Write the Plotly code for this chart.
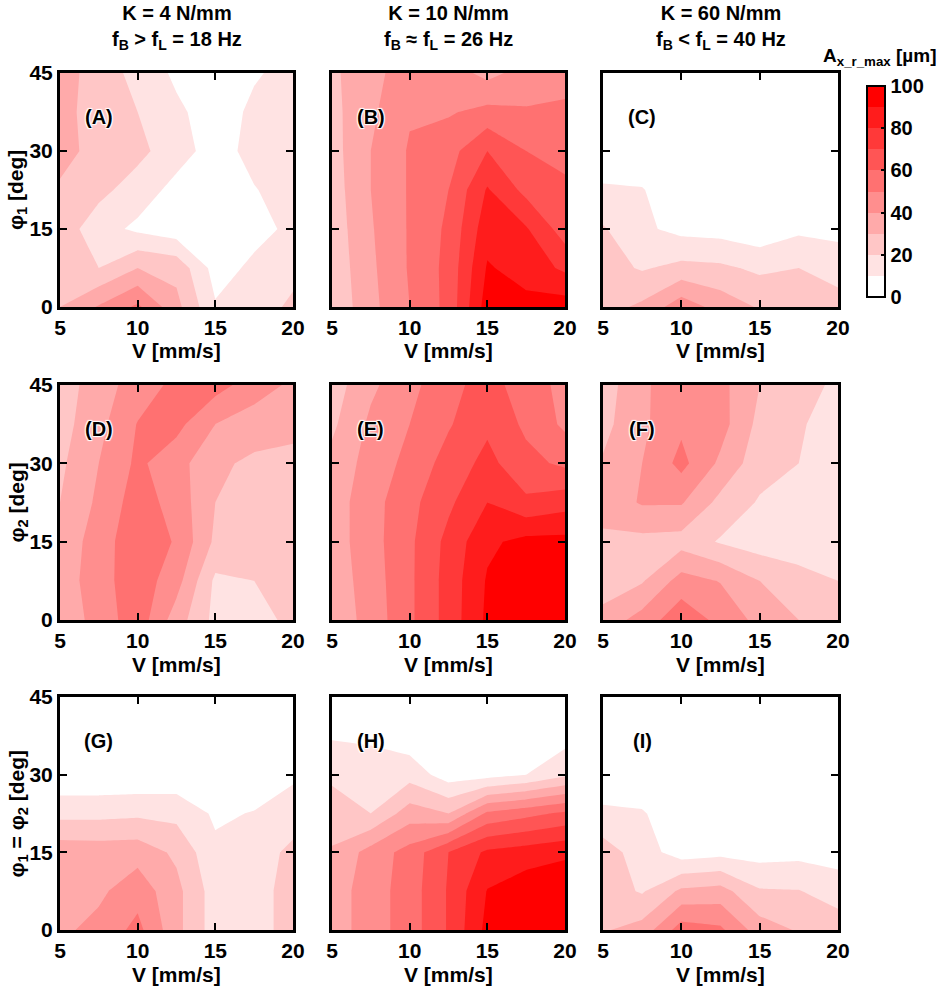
import plotly.graph_objects as go

# grid of the measurements
V = [5, 7.5, 10, 12.5, 15, 17.5, 20]          # mm/s
PHI = [0, 7.5, 15, 22.5, 30, 37.5, 45]        # deg

# A_x_r_max [um], one row per angle (phi = 0 ... 45), columns follow V
Z_A = [
    [30, 41, 52, 33, 11, 15, 22],
    [25, 20, 30, 27, 6, 12, 17],
    [26, 14, 8, 4, 3, 7, 12],
    [28, 23, 15, 7, 3, 9.5, 14],
    [35, 25, 23, 14, 6, 13, 16],
    [33, 26, 20, 12, 5, 12, 15],
    [35, 25, 17, 8, 5, 9, 13],
]
Z_B = [
    [22, 37, 50, 63, 95, 93, 95],
    [23, 38, 51, 63, 91, 86, 78],
    [24, 39, 51, 62, 86, 81, 65],
    [25, 40, 51, 60, 81, 67, 62],
    [26, 40, 51, 56, 70, 60, 57],
    [27, 38, 49, 49, 53, 51, 52],
    [28, 37, 45, 45, 37, 44, 46],
]
Z_C = [
    [26, 32, 46, 36, 29, 26, 24],
    [24, 19, 23, 22, 18, 20, 16],
    [21, 12, 7, 6, 3, 8, 7],
    [11, 10.5, 4, 3, 3, 3, 3],
    [5, 4, 3, 3, 2, 2, 2],
    [3, 2, 2, 2, 2, 2, 2],
    [3, 2, 2, 2, 2, 2, 2],
]
Z_D = [
    [33, 44, 56, 35, 17, 17, 22],
    [34, 46, 56, 44, 18, 20, 23],
    [33, 45, 57, 49, 28, 24, 25],
    [30, 42, 55, 46, 30, 26, 26],
    [28, 40, 52, 44, 32, 28, 27],
    [26, 37, 50.5, 53, 40, 35, 33],
    [24, 36, 44, 53, 54, 45, 38],
]
Z_E = [
    [33, 44, 58, 74, 92, 97, 98],
    [34, 45, 58, 74, 91, 96, 97],
    [35, 46, 58, 73, 88, 93, 93],
    [35, 46, 57, 68, 80, 72, 76],
    [33, 44, 53, 64, 73, 63, 58],
    [28, 42, 50, 59, 68, 58, 48],
    [25, 38, 47, 57, 64, 55, 47],
]
Z_F = [
    [34, 44, 57, 47, 37, 30, 25],
    [24, 29, 44, 39.5, 30, 24, 20],
    [28, 27, 26, 19, 15, 14, 13],
    [34, 41, 41, 27, 19, 16, 14],
    [31, 40, 53, 38, 24, 20, 15],
    [27, 38, 48, 44, 27, 21, 16],
    [25, 38, 47, 43, 30, 24, 18],
]
Z_G = [
    [38, 43, 53, 33, 15, 16, 24],
    [37, 38, 46, 33, 15, 16, 24],
    [36, 35.5, 36, 28, 12, 16, 22],
    [17, 17, 18, 17, 8.5, 10.5, 16],
    [2, 2, 2, 3, 2, 4, 8],
    [1, 1, 1, 1, 1, 2, 4],
    [1, 1, 1, 1, 1, 1, 3],
]
Z_H = [
    [35, 45, 55, 71, 93, 98, 99],
    [35, 45, 55, 71, 90.5, 96, 98],
    [31, 44, 54, 70, 82, 85, 88],
    [25, 20, 35, 30, 52, 57, 62],
    [18, 16, 16, 5, 6, 10, 18],
    [9, 8, 4, 2, 2, 3, 6],
    [3, 2, 1, 1, 1, 1, 3],
]
Z_I = [
    [29, 34, 55, 52, 35, 29, 26],
    [25, 19, 32, 34, 21, 20.5, 15],
    [25, 15, 5, 7, 6, 7, 6],
    [12, 11, 3, 3, 3, 3, 3],
    [3, 2, 2, 2, 2, 2, 2],
    [2, 2, 2, 2, 2, 2, 2],
    [2, 2, 2, 2, 2, 2, 2],
]

PANELS = [Z_A, Z_B, Z_C, Z_D, Z_E, Z_F, Z_G, Z_H, Z_I]
LABELS = ["(A)", "(B)", "(C)", "(D)", "(E)", "(F)", "(G)", "(H)", "(I)"]
COL_TITLES = [
    "K = 4 N/mm<br>f<sub>B</sub> > f<sub>L</sub> = 18 Hz",
    "K = 10 N/mm<br>f<sub>B</sub> ≈ f<sub>L</sub> = 26 Hz",
    "K = 60 N/mm<br>f<sub>B</sub> < f<sub>L</sub> = 40 Hz",
]
ROW_TITLES = [
    "φ<sub>1</sub> [deg]",
    "φ<sub>2</sub> [deg]",
    "φ<sub>1</sub> = φ<sub>2</sub> [deg]",
]

W, H = 941, 989
FONT = "Liberation Sans Narrow, Arial Narrow, Liberation Sans, Arial"

# ten bands, white -> pure red
band_colors = ["rgb(255,%d,%d)" % (round(255 * (1 - k / 9)), round(255 * (1 - k / 9))) for k in range(10)]
colorscale = [[k / 9, c] for k, c in enumerate(band_colors)]

# panel boxes in pixels (left, right) / (top, bottom)
col_px = [(60, 293), (332, 565), (603, 838)]
row_px = [(73, 307), (385, 620), (697, 930)]


def px_x(p):
    return p / W


def px_y(p):
    return 1 - p / H


fig = go.Figure()
layout = dict(
    width=W, height=H,
    margin=dict(l=0, r=0, t=0, b=0, autoexpand=False),
    paper_bgcolor="white", plot_bgcolor="white",
    font=dict(family=FONT, size=20, color="black", weight="bold"),
    showlegend=False,
    annotations=[],
)


def note(text, x, y, size=21, **kw):
    layout["annotations"].append(dict(
        text=text, x=x, y=y, xref=kw.pop("xref", "paper"), yref=kw.pop("yref", "paper"),
        xanchor="center", yanchor="middle", showarrow=False,
        font=dict(family=FONT, size=size, color="black", weight="bold", **kw.pop("font", {})),
        **kw,
    ))


for i, z in enumerate(PANELS):
    r, c = divmod(i, 3)
    n = "" if i == 0 else str(i + 1)
    fig.add_trace(go.Contour(
        x=V, y=PHI, z=z,
        xaxis="x" + n, yaxis="y" + n,
        colorscale=colorscale, zmin=0, zmax=100,
        autocontour=False,
        contours=dict(start=10, end=90, size=10, coloring="fill", showlines=False),
        line=dict(width=0, smoothing=0),
        showscale=(i == 0),
        colorbar=dict(
            x=px_x(857), xanchor="left", y=px_y(76), yanchor="top",
            len=(307 - 76) / H, lenmode="fraction", thickness=18,
            outlinewidth=2, outlinecolor="black",
            tickvals=[0, 20, 40, 60, 80, 100], ticks="inside", ticklen=5,
            tickcolor="black", tickwidth=2,
            tickfont=dict(family=FONT, size=20, weight="bold"),
        ),
        hoverinfo="skip",
    ))
    x0, x1 = col_px[c]
    y0, y1 = row_px[r]
    axis_common = dict(
        showline=True, linewidth=3, linecolor="black", mirror="ticks",
        ticks="inside", ticklen=7, tickwidth=2, tickcolor="black",
        showgrid=False, zeroline=False, automargin=False,
        tickfont=dict(family=FONT, size=21, weight="bold"),
    )
    layout["xaxis" + n] = dict(
        domain=[px_x(x0), px_x(x1)], range=[5, 20], tickvals=[5, 10, 15, 20],
        anchor="y" + n, **axis_common,
    )
    layout["yaxis" + n] = dict(
        domain=[px_y(y1), px_y(y0)], range=[0, 45], tickvals=[0, 15, 30, 45],
        anchor="x" + n, showticklabels=(c == 0), **axis_common,
    )
    # x title under every panel
    note("V [mm/s]", px_x((x0 + x1) / 2), px_y(y1 + 44))
    # panel letter
    note(LABELS[i], 7.5, 36.5, size=20, xref="x" + n, yref="y" + n,
         font=dict(shadow="1px 1px 1px white, -1px -1px 1px white, 1px -1px 1px white, -1px 1px 1px white"))
    if c == 0:
        note(ROW_TITLES[r], px_x(17), px_y((y0 + y1) / 2), textangle=-90)

for c, title in enumerate(COL_TITLES):
    x0, x1 = col_px[c]
    note(title, px_x((x0 + x1) / 2), px_y(28), size=20)

note("A<sub>x_r_max</sub> [µm]", px_x(880), px_y(57), size=19)

fig.update_layout(**layout)
# drop the default body margin so the figure sits at the window's corner
fig.write_html("out.html", config={"displayModeBar": False},
               post_script="document.body.style.margin='0';")
